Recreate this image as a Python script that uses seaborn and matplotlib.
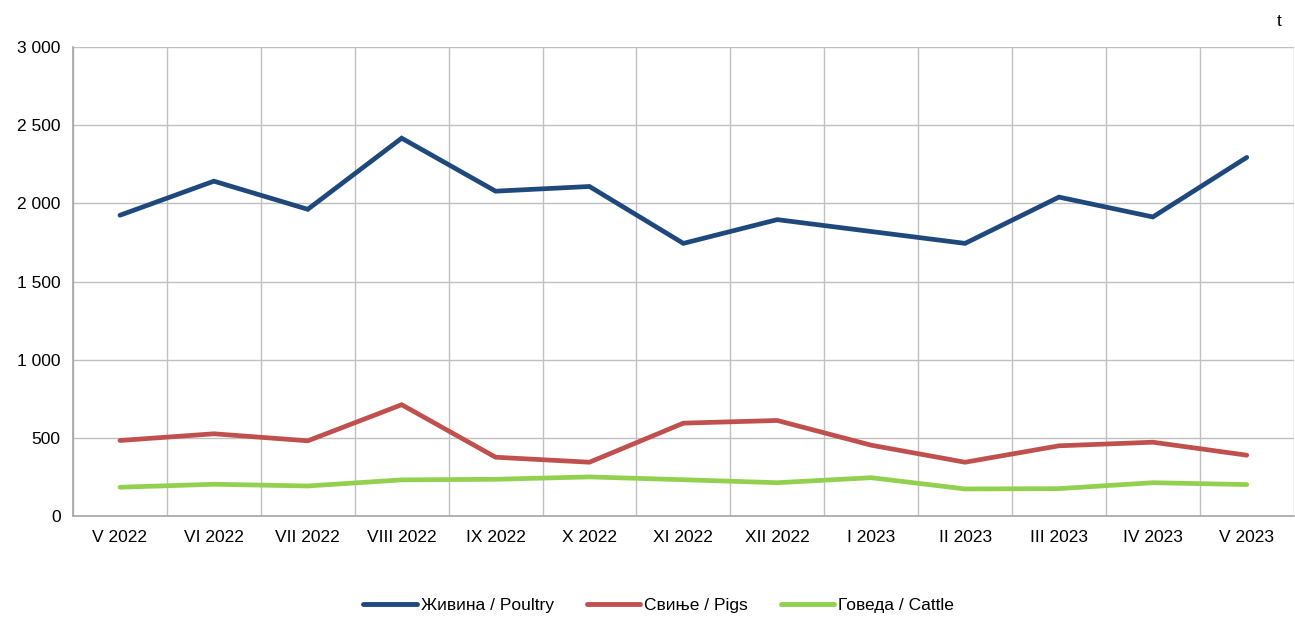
import pandas as pd
import matplotlib
matplotlib.use("Agg")
import matplotlib.pyplot as plt
from matplotlib.ticker import FuncFormatter, MultipleLocator, FixedLocator
from matplotlib.lines import Line2D
import seaborn as sns

months = ["V 2022", "VI 2022", "VII 2022", "VIII 2022", "IX 2022", "X 2022",
          "XI 2022", "XII 2022", "I 2023", "II 2023", "III 2023", "IV 2023",
          "V 2023"]

poultry = [1924, 2142, 1962, 2417, 2078, 2108, 1744, 1896, 1820, 1744, 2040, 1913, 2294]
pigs = [483, 526, 481, 712, 376, 344, 594, 611, 453, 344, 449, 472, 389]
cattle = [184, 203, 192, 231, 235, 250, 232, 213, 245, 173, 175, 213, 201]

series_names = ["Живина / Poultry", "Свиње / Pigs", "Говеда / Cattle"]
colors = ["#1F497D", "#C0504D", "#92D050"]

sns.set_style("white")
plt.rcParams["font.family"] = ["Liberation Sans Narrow", "Liberation Sans", "DejaVu Sans"]
plt.rcParams["text.color"] = "black"
plt.rcParams["xtick.labelcolor"] = "black"
plt.rcParams["ytick.labelcolor"] = "black"

# long format table for seaborn
rows = []
for name, vals in zip(series_names, [poultry, pigs, cattle]):
    for i, v in enumerate(vals):
        rows.append({"pos": i, "month": months[i], "series": name, "value": v})
df = pd.DataFrame(rows)

fig = plt.figure(figsize=(12.95, 6.19), dpi=100)
ax = fig.add_axes([0.0564, 0.1664, 0.9426, 0.7576])

sns.lineplot(
    data=df, x="pos", y="value", hue="series",
    hue_order=series_names, palette=colors,
    linewidth=3.4, legend=False, ax=ax
)
for ln in ax.get_lines():
    ln.set_solid_capstyle("round")
    ln.set_solid_joinstyle("miter")

ax.set_xlim(-0.5, len(months) - 0.5)
ax.set_ylim(0, 3000)

ax.yaxis.set_major_locator(MultipleLocator(500))
ax.yaxis.set_major_formatter(FuncFormatter(lambda v, p: f"{int(v):,}".replace(",", " ")))

ax.set_xticks(range(len(months)))
ax.set_xticklabels(months)
ax.xaxis.set_minor_locator(FixedLocator([i - 0.5 for i in range(len(months) + 1)]))
ax.tick_params(axis="x", which="major", length=0, pad=10, labelsize=12.5, labelcolor="black")
ax.tick_params(axis="x", which="minor", length=6, color="#a6a6a6", width=1)
ax.tick_params(axis="y", which="major", length=5, color="#a6a6a6", width=1,
               labelsize=12.5, pad=4, labelcolor="black")

ax.grid(axis="y", which="major", color="#c0c0c0", linewidth=1)
ax.grid(axis="x", which="minor", color="#c0c0c0", linewidth=1)
ax.set_axisbelow(True)

for side in ["top", "right"]:
    ax.spines[side].set_visible(False)
for side in ["left", "bottom"]:
    ax.spines[side].set_color("#a6a6a6")
    ax.spines[side].set_linewidth(1.2)

ax.set_xlabel("")
ax.set_ylabel("")

fig.text(0.988, 0.965, "t", fontsize=12.5, ha="center", va="center", color="black")

handles = [Line2D([0], [0], color=c, linewidth=3.5, solid_capstyle="round") for c in colors]
fig.legend(handles, series_names, loc="center", bbox_to_anchor=(0.5085, 0.022),
           ncol=3, frameon=False, fontsize=12.5, handlelength=3.1,
           handletextpad=0.2, columnspacing=1.9, labelcolor="black")

fig.savefig("out.png", dpi=100)
